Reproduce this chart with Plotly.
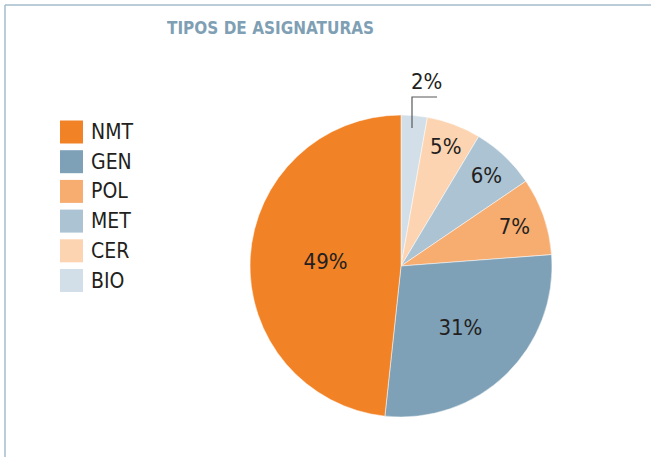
import plotly.graph_objects as go

# Data (clockwise from 12 o'clock)
categories = ["BIO", "CER", "MET", "POL", "GEN", "NMT"]
slice_values = [2.8, 5.8, 6.9, 8.3, 27.9, 48.3]
pct_labels = ["2%", "5%", "6%", "7%", "31%", "49%"]
colors = ["#d2dfe8", "#fcd4b2", "#abc3d3", "#f7ac70", "#7ea1b7", "#f28226"]
legend_order = ["NMT", "GEN", "POL", "MET", "CER", "BIO"]

W, H = 651, 457
FONT = "Liberation Sans Narrow, DejaVu Sans Condensed, Roboto, sans-serif"
TXT = "#231f20"

def px(x):
    return x / W

def py(y):
    return 1 - y / H

inside_text = ["" if c == "BIO" else t for c, t in zip(categories, pct_labels)]

fig = go.Figure()
fig.add_trace(go.Pie(
    labels=categories,
    values=slice_values,
    text=inside_text,
    textinfo="text",
    textposition="inside",
    insidetextorientation="horizontal",
    textfont=dict(family=FONT, size=22, color=TXT),
    marker=dict(colors=colors, line=dict(color="white", width=0.5)),
    sort=False,
    direction="clockwise",
    rotation=0,
    showlegend=False,
    hoverinfo="label+text",
    domain=dict(x=[px(250), px(552)], y=[py(417), py(115)]),
))

shapes = []
annotations = []

# Frame lines (top and left)
shapes.append(dict(type="line", xref="paper", yref="paper", x0=px(5), x1=1.0, y0=py(5), y1=py(5),
                   line=dict(color="#a3bccb", width=1.5)))
shapes.append(dict(type="line", xref="paper", yref="paper", x0=px(5), x1=px(5), y0=py(5), y1=0,
                   line=dict(color="#a3bccb", width=1.5)))

# Title
annotations.append(dict(text="<b>TIPOS DE ASIGNATURAS</b>", xref="paper", yref="paper",
                        x=px(270), y=py(28), showarrow=False, xanchor="center", yanchor="middle",
                        font=dict(family=FONT, size=17, color="#7f9fb5")))

# Custom legend (large square swatches)
color_of = dict(zip(categories, colors))
for i, name in enumerate(legend_order):
    yc = 132 + i * 29.7
    shapes.append(dict(type="rect", xref="paper", yref="paper",
                       x0=px(60), x1=px(83), y0=py(yc + 11.5), y1=py(yc - 11.5),
                       fillcolor=color_of[name], line=dict(width=0)))
    annotations.append(dict(text=name, xref="paper", yref="paper", x=px(89), y=py(yc),
                            showarrow=False, xanchor="left", yanchor="middle",
                            font=dict(family=FONT, size=21, color=TXT)))

# Outside label for the small slice with elbow leader line
annotations.append(dict(text=pct_labels[0], xref="paper", yref="paper", x=px(426), y=py(82),
                        showarrow=False, xanchor="center", yanchor="middle",
                        font=dict(family=FONT, size=22, color=TXT)))
shapes.append(dict(type="path", xref="paper", yref="paper",
                   path=f"M {px(412)} {py(128)} L {px(412)} {py(97)} L {px(437)} {py(97)}",
                   line=dict(color="#58595b", width=1.2)))

fig.update_layout(
    width=W, height=H,
    margin=dict(l=0, r=0, t=0, b=0),
    paper_bgcolor="white",
    plot_bgcolor="white",
    shapes=shapes,
    annotations=annotations,
)

fig.write_html("out.html", config={"displayModeBar": False},
               post_script="document.body.style.margin='0';")
